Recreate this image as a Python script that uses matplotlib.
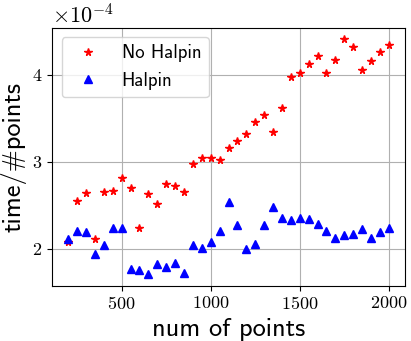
import matplotlib
matplotlib.use('Agg')
import matplotlib.pyplot as plt

plt.rcParams['font.family'] = 'cmr10'
plt.rcParams['mathtext.fontset'] = 'cm'
plt.rcParams['axes.formatter.use_mathtext'] = True

num_points = list(range(200, 2001, 50))

# time per point, in units of 1e-4
no_halpin = [2.08, 2.55, 2.64, 2.115, 2.65, 2.665, 2.81, 2.70, 2.24, 2.63,
             2.52, 2.75, 2.72, 2.65, 2.98, 3.04, 3.04, 3.02, 3.16, 3.24,
             3.32, 3.46, 3.54, 3.34, 3.62, 3.98, 4.025, 4.13, 4.22, 4.02,
             4.17, 4.41, 4.32, 4.06, 4.16, 4.26, 4.34]
halpin = [2.115, 2.21, 2.195, 1.94, 2.04, 2.245, 2.245, 1.77, 1.76, 1.71,
          1.83, 1.79, 1.84, 1.72, 2.045, 2.015, 2.08, 2.20, 2.54, 2.27,
          2.00, 2.05, 2.27, 2.485, 2.36, 2.33, 2.355, 2.34, 2.28, 2.21,
          2.12, 2.155, 2.175, 2.23, 2.125, 2.19, 2.245]
y_ticks = [2, 3, 4]

fig = plt.figure(figsize=(4.11, 3.41), dpi=100)
ax = fig.add_axes([0.127, 0.162, 0.858, 0.757])

ax.plot(num_points, [v * 1e-4 for v in no_halpin], '*', color='red',
        markersize=5.5, label='No Halpin')
ax.plot(num_points, [v * 1e-4 for v in halpin], '^', color='blue',
        markersize=5.5, label='Halpin')

ax.grid(True)
ax.set_xticks([500, 1000, 1500, 2000])
ax.set_yticks([t * 1e-4 for t in y_ticks])
ax.ticklabel_format(style='sci', axis='y', scilimits=(0, 0))
ax.tick_params(labelsize=13)
ax.yaxis.get_offset_text().set_fontsize(16)

ax.set_xlabel('num of points', family='cmss10', fontsize=19)
ax.set_ylabel('time/#points', family='cmss10', fontsize=19)
ax.legend(loc='upper left', prop={'family': 'cmss10', 'size': 13.5})

fig.savefig('out.png', dpi=100)
